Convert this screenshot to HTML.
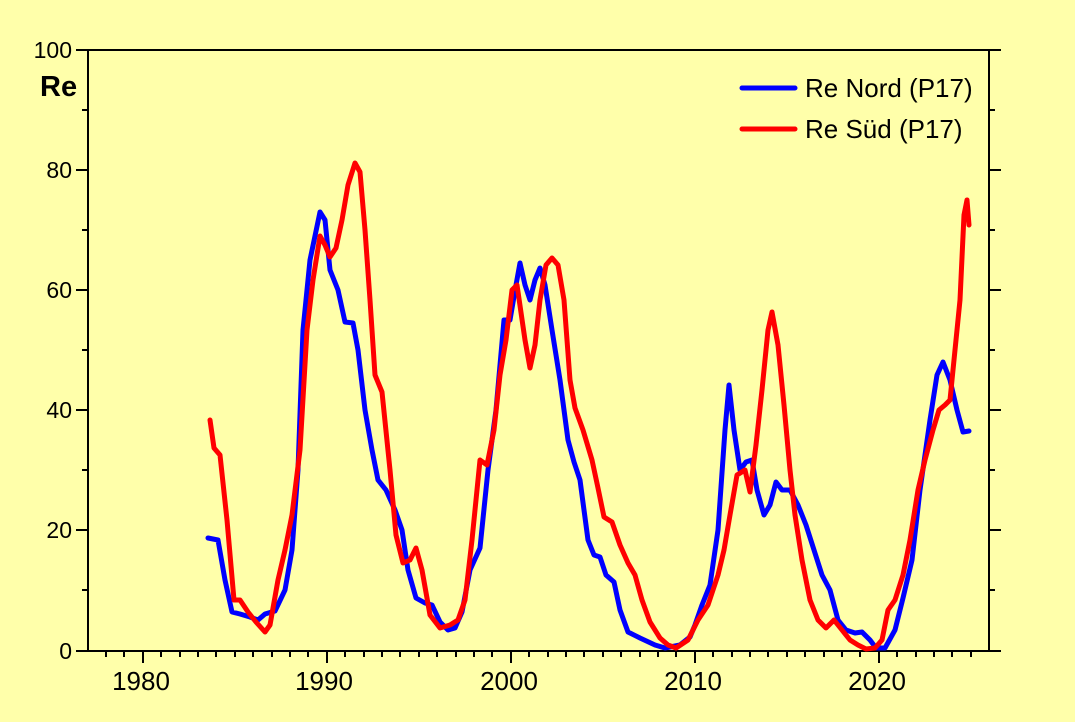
<!DOCTYPE html>
<html><head><meta charset="utf-8"><style>body{margin:0;background:#ffffaa}</style></head><body>
<svg width="1075" height="717" viewBox="0 0 1075 717" xmlns="http://www.w3.org/2000/svg" font-family="Liberation Sans, sans-serif">
<rect width="1075" height="717" fill="#ffffaa"/>
<g stroke="#000" stroke-width="2" fill="none">
<path d="M88 50V651H989V50H88M989 50H1001"/>
<path d="M76 50H88M76 170H88M76 290H88M76 410H88M76 530H88M76 651H88M82 110H88M82 230H88M82 350H88M82 470H88M82 590H88
M989 170H1001M989 290H1001M989 410H1001M989 530H1001M989 651H1001M989 110H995M989 230H995M989 350H995M989 470H995M989 590H995"/>
<path d="M143 651v12M327 651v12M511 651v12M695 651v12M879 651v12
M106 651v6M124 651v6M161 651v6M180 651v6M198 651v6M216 651v6M235 651v6M253 651v6M272 651v6M290 651v6M308 651v6
M345 651v6M364 651v6M382 651v6M400 651v6M419 651v6M437 651v6M456 651v6M474 651v6M492 651v6
M529 651v6M548 651v6M566 651v6M584 651v6M603 651v6M621 651v6M640 651v6M658 651v6M676 651v6
M713 651v6M732 651v6M750 651v6M768 651v6M787 651v6M805 651v6M824 651v6M842 651v6M860 651v6
M897 651v6M916 651v6M934 651v6M952 651v6M971 651v6"/>
</g>
<g font-size="23" fill="#000" text-anchor="end">
<text x="72" y="58">100</text><text x="72" y="178">80</text><text x="72" y="298">60</text><text x="72" y="418">40</text><text x="72" y="538">20</text><text x="72" y="659">0</text>
</g>
<g font-size="26" fill="#000" text-anchor="middle">
<text x="141" y="690">1980</text><text x="324" y="690">1990</text><text x="509" y="690">2000</text><text x="693" y="690">2010</text><text x="877" y="690">2020</text>
</g>
<text x="40" y="96" font-size="29" font-weight="bold">Re</text>
<g fill="none" stroke-width="5" stroke-linejoin="round" stroke-linecap="round">
<polyline stroke="#0000ff" points="208,538 218,540 225,580 232,612 240,614 250,617 258,620 265,614 275,611 285,590 292,550 298,470 303,330 310,260 320,212 325,220 330,270 338,290 345,322 353,323 358,350 365,410 372,450 378,480 386,490 395,510 402,530 408,570 416,598 425,603 432,605 440,622 448,630 455,628 462,612 470,570 480,548 488,470 496,410 504,320 510,320 516,285 520,263 525,285 530,300 535,280 540,268 545,285 552,330 560,380 568,440 574,462 580,480 588,540 594,555 600,557 606,575 614,582 620,610 628,632 640,638 655,645 665,648 680,645 690,637 695,625 702,605 710,585 718,530 725,430 729,385 734,430 740,470 746,462 752,460 757,490 764,515 770,505 776,482 782,490 790,490 798,505 806,525 814,550 822,575 830,590 838,620 846,630 855,633 862,632 870,640 876,648 885,648 895,630 903,598 912,560 920,490 930,420 937,375 943,362 950,380 957,410 963,432 969,431"/>
<polyline stroke="#ff0000" points="210,420 214,448 220,455 227,520 234,600 240,600 248,612 256,622 265,632 270,625 278,580 285,550 292,515 300,450 307,330 313,280 320,236 325,245 330,257 336,248 342,220 348,185 355,163 360,172 365,230 370,300 375,375 382,392 390,470 396,535 403,563 410,560 416,548 422,570 430,615 440,628 450,625 458,620 465,600 472,540 480,460 487,465 494,430 500,375 506,340 512,290 517,285 525,340 530,368 535,345 540,300 546,265 552,258 558,265 564,300 570,380 575,408 583,430 592,460 598,488 604,517 612,522 620,545 628,563 635,575 642,600 650,622 660,638 668,645 676,648 688,640 698,620 708,605 718,575 724,550 730,515 737,475 745,470 750,492 756,445 762,390 768,330 772,312 778,345 784,405 790,470 795,515 802,560 810,600 818,620 826,628 834,620 842,630 850,640 858,645 866,649 875,648 882,640 888,610 895,600 903,575 910,540 918,490 925,460 933,430 939,410 945,405 950,400 955,350 960,300 964,215 967,200 969,225"/>
<line x1="742" y1="88" x2="795" y2="88" stroke="#0000ff"/>
<line x1="742" y1="129" x2="795" y2="129" stroke="#ff0000"/>
</g>
<g font-size="26" fill="#000">
<text x="805" y="97">Re Nord (P17)</text>
<text x="805" y="138">Re Süd (P17)</text>
</g>
</svg>
</body></html>
